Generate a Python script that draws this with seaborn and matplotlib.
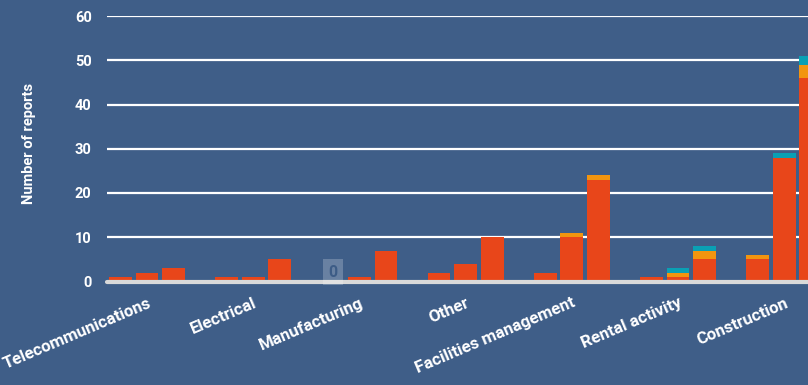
import pandas as pd
import seaborn as sns
import matplotlib.pyplot as plt

# Reports per sector, split by three reporting periods and three report types
sectors = ["Telecommunications", "Electrical", "Manufacturing", "Other",
           "Facilities management", "Rental activity", "Construction"]
periods = ["Period 1", "Period 2", "Period 3"]
type_a = [[1, 2, 3], [1, 1, 5], [0, 1, 7], [2, 4, 10], [2, 10, 23], [1, 1, 5], [5, 28, 46]]
type_b = [[0, 0, 0], [0, 0, 0], [0, 0, 0], [0, 0, 0], [0, 1, 1], [0, 1, 2], [1, 0, 3]]
type_c = [[0, 0, 0], [0, 0, 0], [0, 0, 0], [0, 0, 0], [0, 0, 0], [0, 1, 1], [0, 1, 2]]
y_ticks = [0, 10, 20, 30, 40, 50, 60]

BG = "#3f5e88"
RED = "#e8461a"
ORANGE = "#f2950f"
TEAL = "#0aa0b4"

rows = []
for i, s in enumerate(sectors):
    for j, p in enumerate(periods):
        a, b, c = type_a[i][j], type_b[i][j], type_c[i][j]
        rows.append({"sector": s, "period": p, "a": a, "ab": a + b, "abc": a + b + c})
df = pd.DataFrame(rows)

sns.set_theme(style="white")
plt.rcParams["font.family"] = ["Roboto", "DejaVu Sans"]

fig = plt.figure(figsize=(8.08, 3.85), dpi=100, facecolor=BG)
ax = fig.add_axes([107 / 808, (385 - 281.5) / 385, (808 - 107) / 808, (281.5 - 16) / 385])
ax.set_facecolor(BG)

# Stacked bars: draw cumulative totals from the top segment down
for col, color in [("abc", TEAL), ("ab", ORANGE), ("a", RED)]:
    sns.barplot(data=df, x="sector", y=col, hue="period", order=sectors,
                hue_order=periods, palette=[color] * 3, width=0.75, gap=0.14,
                dodge=True, saturation=1, errorbar=None, legend=False,
                linewidth=0, ax=ax, zorder=3)

# Label bars with no reports
for cont_idx, cont in enumerate(ax.containers[-3:]):
    for k, patch in enumerate(cont):
        if type_a[k][cont_idx] + type_b[k][cont_idx] + type_c[k][cont_idx] == 0:
            xc = patch.get_x() + patch.get_width() / 2
            ax.text(xc, 0.45, "0", ha="center", va="bottom", color="#3d5c86",
                    fontsize=11.5, fontweight="bold", zorder=6,
                    bbox=dict(boxstyle="square,pad=0.35", fc="white", alpha=0.22, ec="none"))

ax.set_ylim(0, 60)
ax.set_xlim(-0.377, 6.224)
ax.set_yticks(y_ticks)
ax.set_yticklabels([str(t) for t in y_ticks], color="white", fontsize=10.5, fontweight="bold")
ax.yaxis.grid(True, color="white", linewidth=1.6, zorder=1)
ax.set_axisbelow(True)
ax.axhline(0, color="#d9d9d9", linewidth=3, zorder=5, clip_on=False)

ax.set_xlabel("")
ax.set_ylabel("Number of reports", color="white", fontsize=10.5, fontweight="bold")
ax.yaxis.set_label_coords((36 - 107) / 701, 0.52)

ax.tick_params(axis="both", length=0)
ax.tick_params(axis="y", pad=11)
ax.tick_params(axis="x", pad=10)
for lbl in ax.get_xticklabels():
    lbl.set_rotation(23)
    lbl.set_ha("right")
    lbl.set_rotation_mode("anchor")
    lbl.set_color("white")
    lbl.set_fontsize(12.2)
    lbl.set_fontweight("semibold")

for sp in ax.spines.values():
    sp.set_visible(False)

fig.savefig("out.png", dpi=100, facecolor=BG)
